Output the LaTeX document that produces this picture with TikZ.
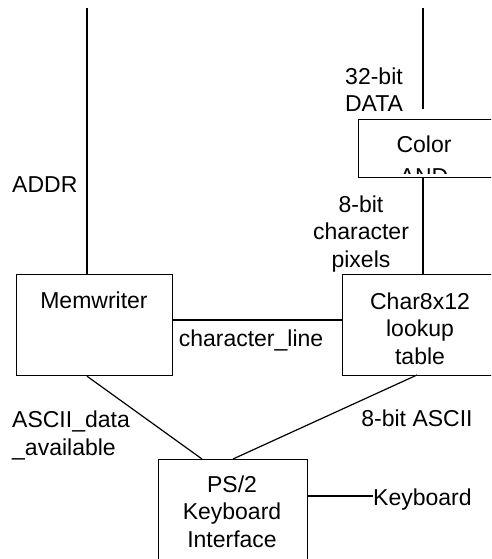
\documentclass[tikz,border=0pt]{standalone}
\usepackage{fontspec}
\setmainfont{Liberation Sans}
\usetikzlibrary{calc}
\begin{document}
\begin{tikzpicture}[x=1pt,y=-1pt,
  box/.style={draw, line width=1.2pt, inner sep=0pt, anchor=north west},
  lbl/.style={font=\fontsize{23}{27.5}\selectfont, inner sep=0pt, align=center},
  lbll/.style={font=\fontsize{23}{27.5}\selectfont, inner sep=0pt, align=left},
  wire/.style={line width=1.2pt}]
\useasboundingbox (0,0) rectangle (491,559);
\clip (0,0) rectangle (491,559);
% boxes
\node[box, minimum width=156pt, minimum height=101pt] (mem) at (16,274) {};
\node[box, minimum width=156pt, minimum height=101pt] (char) at (342,274) {};
\node[box, minimum width=140pt, minimum height=58pt] (color) at (358,119) {};
\node[box, minimum width=149pt, minimum height=120pt] (ps2) at (158,459) {};
% box texts (anchor base = baseline of last line)
\node[lbl, anchor=base] (memtxt) at (94,308) {Memwriter};
\node[lbl, anchor=base] (chartxt) at (420,364) {Char8x12\\lookup\\table};
\node[lbl, anchor=base] (ps2txt) at (232,547) {PS/2\\Keyboard\\Interface};
\begin{scope}
  \clip (358,119) rectangle (498,173);
  \node[lbl, anchor=base] (colortxt) at (424,184) {Color\\[4.5pt]AND};
\end{scope}
% coordinates
\coordinate (addrtop) at (87,8);
\coordinate (datatop) at (423,8);
\coordinate (dataend) at (423,109);
\coordinate (cl) at (0,320);
\coordinate (ps2a) at (202,459);
\coordinate (ps2b) at (233,459);
\coordinate (charb) at (417,375);
\coordinate (kb) at (0,496);
% labels
\node[lbll, anchor=base west] (addr) at (12,192) {ADDR};
\node[lbl, anchor=base] (data) at (374,112) {32-bit\\DATA};
\node[lbl, anchor=base] (pix) at (361,267) {8-bit\\character\\pixels};
\node[lbl, anchor=base] (cline) at (251,346) {character\_line};
\node[lbll, anchor=base west] (ascii) at (12,455) {ASCII\_data\\\_available};
\node[lbl, anchor=base] (ascii8) at (417,426) {8-bit ASCII};
\node[lbll, anchor=base west] (kbd) at (373,505) {Keyboard};
% wires
\draw[wire] (addrtop) -- (addrtop |- mem.north);
\draw[wire] (datatop) -- (dataend);
\draw[wire] (color.south -| dataend) -- (char.north -| dataend);
\draw[wire] (mem.east |- cl) -- (char.west |- cl);
\draw[wire] (addrtop |- mem.south) -- (ps2a);
\draw[wire] (charb) -- (ps2b);
\draw[wire] (ps2.east |- kb) -- (kbd.west |- kb);
\end{tikzpicture}
\end{document}
